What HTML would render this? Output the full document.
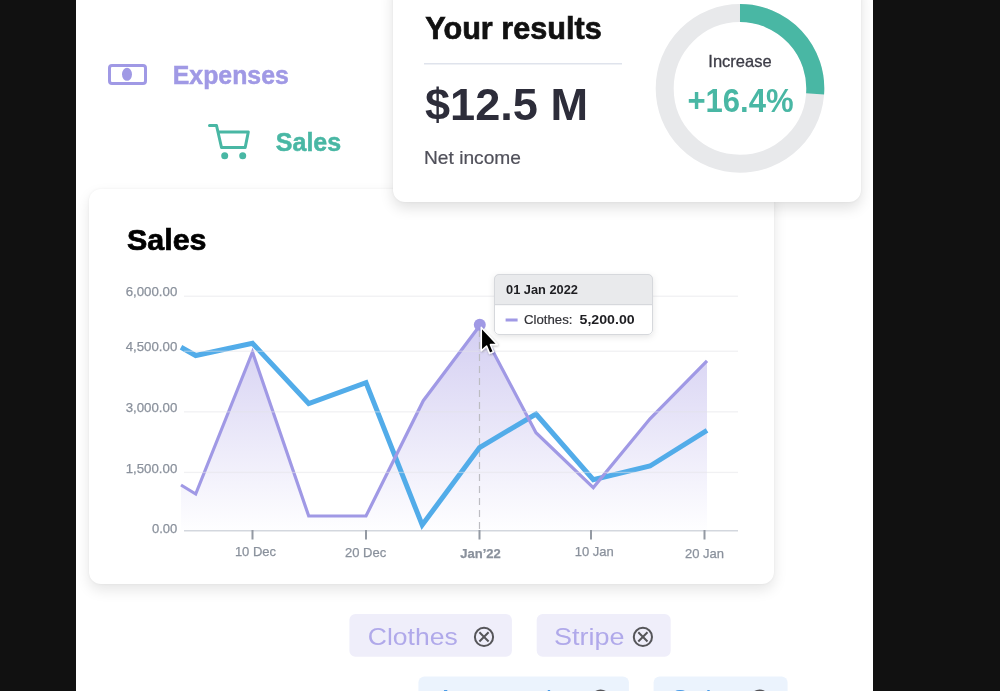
<!DOCTYPE html>
<html><head><meta charset="utf-8">
<style>
html,body{margin:0;padding:0;}
body{width:1000px;height:691px;overflow:hidden;background:#111111;position:relative;font-family:"Liberation Sans",sans-serif;}
.page{position:absolute;left:76px;top:0;width:797px;height:691px;background:#ffffff;}
.card{position:absolute;background:#fff;border-radius:12px;}
#sales{left:89px;top:188.5px;width:685px;height:395.5px;box-shadow:0 6px 14px rgba(0,0,0,0.10),0 0 3px rgba(0,0,0,0.05);}
#results{left:393px;top:-20px;width:468px;height:222px;box-shadow:0 6px 14px rgba(0,0,0,0.12),0 0 3px rgba(0,0,0,0.05);}
svg{position:absolute;left:0;top:0;will-change:transform;}
</style></head>
<body>
<div class="page"></div>
<div class="card" id="sales"></div>
<div class="card" id="results"></div>
<svg width="1000" height="691" viewBox="0 0 1000 691" font-family="Liberation Sans, sans-serif">
  <defs>
    <linearGradient id="area" x1="0" y1="326" x2="0" y2="530" gradientUnits="userSpaceOnUse">
      <stop offset="0" stop-color="#d4cff2"/>
      <stop offset="1" stop-color="#fefeff"/>
    </linearGradient>
    <filter id="tshadow" x="-20%" y="-30%" width="140%" height="170%">
      <feDropShadow dx="0" dy="2" stdDeviation="3" flood-color="#000" flood-opacity="0.10"/>
    </filter>
    <filter id="cshadow" x="-50%" y="-50%" width="200%" height="200%">
      <feDropShadow dx="0.5" dy="1" stdDeviation="1" flood-color="#000" flood-opacity="0.3"/>
    </filter>
  </defs>

  <!-- nav: Expenses -->
  <rect x="109.5" y="65.5" width="36" height="18" rx="2.5" fill="none" stroke="#a099e5" stroke-width="3"/>
  <ellipse cx="127" cy="74.3" rx="5" ry="6.5" fill="#a099e5"/>
  <text x="172.8" y="84" font-size="25" font-weight="bold" fill="#a099e5" stroke="#a099e5" stroke-width="0.5" textLength="116" lengthAdjust="spacingAndGlyphs">Expenses</text>

  <!-- nav: Sales -->
  <g fill="none" stroke="#49b7a4" stroke-width="3" stroke-linecap="round" stroke-linejoin="round">
    <path d="M209.5 125.5 H216.5 L221.5 147.5 H245.2 L248.3 132 H218"/>
  </g>
  <circle cx="224.7" cy="155.8" r="3.5" fill="#49b7a4"/>
  <circle cx="242.7" cy="155.8" r="3.5" fill="#49b7a4"/>
  <text x="275.8" y="150.8" font-size="25" font-weight="bold" fill="#49b7a4" stroke="#49b7a4" stroke-width="0.5">Sales</text>

  <!-- results card content -->
  <text x="425.3" y="39" font-size="32" font-weight="bold" fill="#111111" stroke="#111111" stroke-width="0.7" textLength="176.4" lengthAdjust="spacingAndGlyphs">Your results</text>
  <rect x="424" y="63" width="198" height="1.5" fill="#dfe3ec"/>
  <text x="425" y="120.4" font-size="44" font-weight="bold" fill="#2d2d3a" textLength="163" lengthAdjust="spacingAndGlyphs">$12.5 M</text>
  <text x="424" y="164" font-size="18.5" fill="#50505a" stroke="#50505a" stroke-width="0.2" textLength="97" lengthAdjust="spacingAndGlyphs">Net income</text>

  <circle cx="740" cy="88.4" r="75.3" fill="none" stroke="#e8e9eb" stroke-width="18"/>
  <path d="M740 13.1 A75.3 75.3 0 0 1 815.1 93.8" fill="none" stroke="#49b7a4" stroke-width="18"/>
  <text x="740" y="66.8" font-size="16.5" fill="#3c3c46" stroke="#3c3c46" stroke-width="0.3" text-anchor="middle">Increase</text>
  <text x="740.5" y="112.2" font-size="34" font-weight="bold" fill="#49b7a4" text-anchor="middle" textLength="106.2" lengthAdjust="spacingAndGlyphs">+16.4%</text>

  <!-- Sales chart -->
  <text x="127" y="250.4" font-size="30" font-weight="bold" fill="#000" stroke="#000" stroke-width="0.7" textLength="79.5" lengthAdjust="spacingAndGlyphs">Sales</text>

  <g font-size="13" fill="#8a919c" stroke="#8a919c" stroke-width="0.25" text-anchor="end">
    <text x="177.3" y="296.2" textLength="51.6" lengthAdjust="spacingAndGlyphs">6,000.00</text>
    <text x="177.3" y="351" textLength="51.6" lengthAdjust="spacingAndGlyphs">4,500.00</text>
    <text x="177.3" y="411.5" textLength="51.6" lengthAdjust="spacingAndGlyphs">3,000.00</text>
    <text x="177.3" y="472.5" textLength="51.6" lengthAdjust="spacingAndGlyphs">1,500.00</text>
    <text x="177.3" y="533">0.00</text>
  </g>
  <!-- area -->
  <path d="M181 485 L195.7 494 L252.5 352 L308.7 516 L366 516 L423.3 400.7 L479.5 326 L536 432.7 L593.3 487.6 L650 418.8 L707 360.8 L707 530 L181 530 Z" fill="url(#area)"/>
  <!-- axis -->
  <rect x="184" y="530" width="554" height="1.5" fill="#d3d7de"/>
  <g fill="#949aa3">
    <rect x="251.5" y="530" width="2" height="9.5"/>
    <rect x="365" y="530" width="2" height="9.5"/>
    <rect x="478.5" y="530" width="2" height="9.5"/>
    <rect x="590" y="530" width="2" height="9.5"/>
    <rect x="703.5" y="530" width="2" height="9.5"/>
  </g>
  <g font-size="13" fill="#8a919c" stroke="#8a919c" stroke-width="0.25" text-anchor="middle">
    <text x="255.5" y="556">10 Dec</text>
    <text x="365.6" y="557.4">20 Dec</text>
    <text x="480.5" y="557.5" font-weight="bold">Jan’22</text>
    <text x="594.2" y="556">10 Jan</text>
    <text x="704.5" y="557.5">20 Jan</text>
  </g>

  <!-- dashed crosshair -->
  <line x1="479.5" y1="330" x2="479.5" y2="530" stroke="#bdbdc2" stroke-width="1.2" stroke-dasharray="7 5"/>

  <!-- blue line -->
  <path d="M181 347.2 L195.7 355.5 L252.5 343.3 L308.7 403.5 L366 382.6 L422.2 525 L479.5 447.6 L536 414 L593.3 479.6 L650 466 L707 430.3" fill="none" stroke="#52ace9" stroke-width="5" stroke-linejoin="miter"/>
  <!-- purple line -->
  <path d="M181 485 L195.7 494 L252.5 352 L308.7 516 L366 516 L423.3 400.7 L479.5 326 L536 432.7 L593.3 487.6 L650 418.8 L707 360.8" fill="none" stroke="#a099e5" stroke-width="3.2" stroke-linejoin="miter"/>
  <!-- gridlines on top -->
  <g fill="rgb(228,228,232)" fill-opacity="0.5">
    <rect x="184" y="295.6" width="554" height="1.3"/>
    <rect x="184" y="350.6" width="554" height="1.3"/>
    <rect x="184" y="411.2" width="554" height="1.3"/>
    <rect x="184" y="471.8" width="554" height="1.3"/>
  </g>

  <circle cx="479.8" cy="324.8" r="6" fill="#a099e5"/>

  <!-- tooltip -->
  <g filter="url(#tshadow)">
    <rect x="494" y="274" width="159" height="61" rx="5" fill="#fff"/>
  </g>
  <path d="M494 304.5 V279 A5 5 0 0 1 499 274 H648 A5 5 0 0 1 653 279 V304.5 Z" fill="#e9eaec"/>
  <rect x="494" y="304" width="159" height="1.2" fill="#d6d8dc"/>
  <rect x="494.5" y="274.5" width="158" height="60" rx="4.5" fill="none" stroke="#d6d8dc" stroke-width="1"/>
  <text x="506" y="294.3" font-size="12.8" font-weight="bold" fill="#1e1e22" textLength="72" lengthAdjust="spacingAndGlyphs">01 Jan 2022</text>
  <rect x="505.6" y="318.5" width="12" height="3" fill="#a099e5"/>
  <text x="524" y="323.8" font-size="12.5" fill="#333338" stroke="#333338" stroke-width="0.2" textLength="48.4" lengthAdjust="spacingAndGlyphs">Clothes:</text>
  <text x="579.5" y="323.8" font-size="12.5" font-weight="bold" fill="#1e1e22" textLength="55.2" lengthAdjust="spacingAndGlyphs">5,200.00</text>

  <!-- cursor -->
  <path d="M481.3 327.4 L481.3 350.8 L486.6 346 L489.6 353.4 L493.4 351.8 L490.4 344.6 L497.2 344.4 Z" fill="#000" stroke="#fff" stroke-width="1.5" stroke-linejoin="round" filter="url(#cshadow)"/>

  <!-- chips -->
  <rect x="349.4" y="614" width="162.5" height="42.7" rx="6" fill="#efeefa"/>
  <text x="367.8" y="644.6" font-size="24.5" fill="#b0a9ea" textLength="89.9" lengthAdjust="spacingAndGlyphs">Clothes</text>
  <g fill="none" stroke="#555559" stroke-width="2">
    <circle cx="484" cy="636.9" r="9.1"/>
    <path d="M479.4 632.3 L488.6 641.5 M488.6 632.3 L479.4 641.5"/>
  </g>
  <rect x="536.7" y="614" width="134" height="42.7" rx="6" fill="#efeefa"/>
  <text x="554" y="644.6" font-size="24.5" fill="#b0a9ea" textLength="70.5" lengthAdjust="spacingAndGlyphs">Stripe</text>
  <g fill="none" stroke="#555559" stroke-width="2">
    <circle cx="642.9" cy="636.9" r="9.1"/>
    <path d="M638.3 632.3 L647.5 641.5 M647.5 632.3 L638.3 641.5"/>
  </g>

  <rect x="418.4" y="676.6" width="210.5" height="42.7" rx="6" fill="#ebf3fd"/>
  <text x="436.8" y="707.2" font-size="24.5" fill="#4a9be6" textLength="143" lengthAdjust="spacingAndGlyphs">Accessories</text>
  <g fill="none" stroke="#555559" stroke-width="2">
    <circle cx="600.6" cy="699.5" r="9"/>
  </g>
  <rect x="653.6" y="676.6" width="134" height="42.7" rx="6" fill="#ebf3fd"/>
  <text x="671" y="707.2" font-size="24.5" fill="#4a9be6" textLength="70.5" lengthAdjust="spacingAndGlyphs">Stripe</text>
  <g fill="none" stroke="#555559" stroke-width="2">
    <circle cx="759.6" cy="699.5" r="9"/>
  </g>
</svg>
</body></html>
